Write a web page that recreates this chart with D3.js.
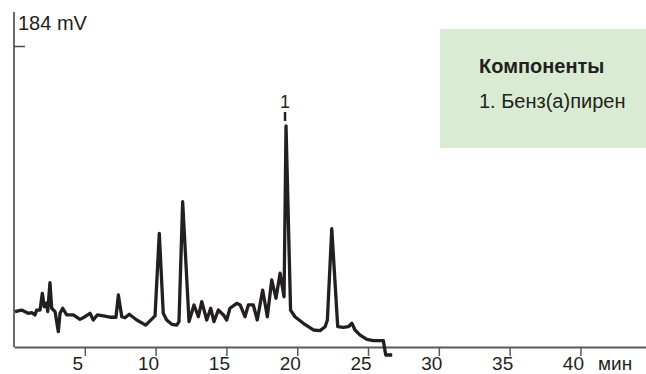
<!DOCTYPE html>
<html>
<head>
<meta charset="utf-8">
<script src="https://cdn.jsdelivr.net/npm/d3@7/dist/d3.min.js"></script>
<style>
  html, body { margin: 0; padding: 0; background: #ffffff; }
  svg { display: block; }
  text { font-family: "Liberation Sans", Arial, Helvetica, sans-serif; fill: #231f20; }
</style>
</head>
<body>
<script>
// ---- Data ----
const timeMin = [0.07,0.54,0.78,1.01,1.25,1.48,1.60,1.84,2.00,2.14,2.31,2.38,2.54,2.66,2.90,3.13,3.25,3.44,3.72,4.19,
  4.66,5.01,5.37,5.60,5.88,6.31,6.78,7.20,7.37,7.61,7.84,8.14,8.67,9.30,9.96,10.26,10.54,10.78,11.14,11.49,
  11.65,11.91,12.36,12.71,13.02,13.26,13.61,13.89,14.12,14.43,14.79,15.02,15.25,15.73,15.97,16.31,16.55,16.90,17.18,17.56,
  17.89,18.20,18.50,18.79,19.07,19.21,19.53,19.84,20.43,21.14,21.61,21.97,22.13,22.44,22.86,23.26,23.61,23.86,24.08,24.44,
  24.92,25.38,25.85,26.08,26.25,26.71];
const signalMV = [21.6,22.6,21.6,20.6,21.0,19.6,22.6,22.6,32.8,24.6,26.9,21.6,39.3,23.7,21.6,9.4,20.6,23.7,19.6,19.6,
  16.9,18.5,20.6,16.5,19.6,19.0,18.2,18.2,31.8,18.5,17.9,20.0,16.5,13.4,19.0,69.5,20.6,16.5,13.9,13.4,
  15.5,88.8,15.5,25.7,18.5,27.7,16.5,23.7,15.5,22.6,19.6,16.5,23.7,26.7,25.7,18.5,25.7,25.7,16.5,34.8,
  18.5,41.0,29.8,45.1,30.7,135.1,22.6,18.5,14.5,10.4,10.0,12.4,16.5,72.4,12.4,12.0,12.4,14.5,10.4,7.3,
  4.7,3.9,3.9,3.9,-4.9,-4.9];
const xTicks = [5,10,15,20,25,30,35,40];
const xUnit = "мин";
const yMaxLabel = "184 mV";
const yTickValues = [184];
const peakLabels = [{ id: "1", t: 19.21, v: 135.1 }];
const legendTitle = "Компоненты";
const legendItems = ["1. Бенз(а)пирен"];

// ---- Layout ----
const W = 646, H = 374;
const svg = d3.select("body").append("svg").attr("width", W).attr("height", H);

const x = d3.scaleLinear().domain([0, 44.63]).range([14, 646]);
const y = d3.scaleLinear().domain([0, 184]).range([347, 46]);

// legend box
svg.append("rect").attr("x", 440).attr("y", 29).attr("width", 206).attr("height", 119)
  .attr("fill", "#d9ebd3");
svg.append("text").attr("x", 479).attr("y", 73).attr("font-size", 20).attr("font-weight", "bold")
  .text(legendTitle);
svg.selectAll("text.leg").data(legendItems).enter().append("text").attr("class", "leg")
  .attr("x", 479).attr("y", (d, i) => 108 + i * 26).attr("font-size", 20).text(d => d);

// x axis
const xAxis = d3.axisBottom(x).tickValues(xTicks).tickSize(9).tickSizeOuter(0).tickPadding(2);
const gx = svg.append("g").attr("transform", "translate(0,347)").call(xAxis);
gx.select(".domain").attr("stroke", "#5a5a5a").attr("stroke-width", 2);
gx.selectAll(".tick line").attr("stroke", "#5a5a5a").attr("stroke-width", 1.5);
gx.selectAll(".tick text").attr("font-size", 19).attr("fill", "#231f20")
  .attr("font-family", "Liberation Sans, Arial, sans-serif")
  .attr("dx", -7.5).attr("y", 23).attr("dy", 0);
svg.append("text").attr("x", 598).attr("y", 370).attr("font-size", 19).text(xUnit);

// y axis
const yAxis = d3.axisRight(y).tickValues(yTickValues).tickSize(11).tickSizeOuter(0).tickFormat("");
const gy = svg.append("g").attr("transform", "translate(14,0)").call(yAxis);
gy.select(".domain").remove();
gy.selectAll(".tick line").attr("stroke", "#4a4a4a").attr("stroke-width", 1.5);
svg.append("line").attr("x1", 14).attr("x2", 14).attr("y1", 12).attr("y2", 347)
  .attr("stroke", "#3a3a3a").attr("stroke-width", 1.5);
svg.append("text").attr("x", 18).attr("y", 30).attr("font-size", 20).text(yMaxLabel);

// trace
const pts = timeMin.map((t, i) => [t, signalMV[i]]);
const line = d3.line().x(d => x(d[0])).y(d => y(d[1]));
svg.append("path").datum(pts).attr("d", line).attr("fill", "none")
  .attr("stroke", "#231f20").attr("stroke-width", 3.3).attr("stroke-linejoin", "round");

// peak label
peakLabels.forEach(p => {
  const px = x(p.t) - 1, py = y(p.v);
  svg.append("line").attr("x1", px).attr("x2", px).attr("y1", py - 14).attr("y2", py - 5)
    .attr("stroke", "#231f20").attr("stroke-width", 2.5);
  svg.append("text").attr("x", px).attr("y", py - 18).attr("font-size", 18)
    .attr("text-anchor", "middle").text(p.id);
});
</script>
</body>
</html>
